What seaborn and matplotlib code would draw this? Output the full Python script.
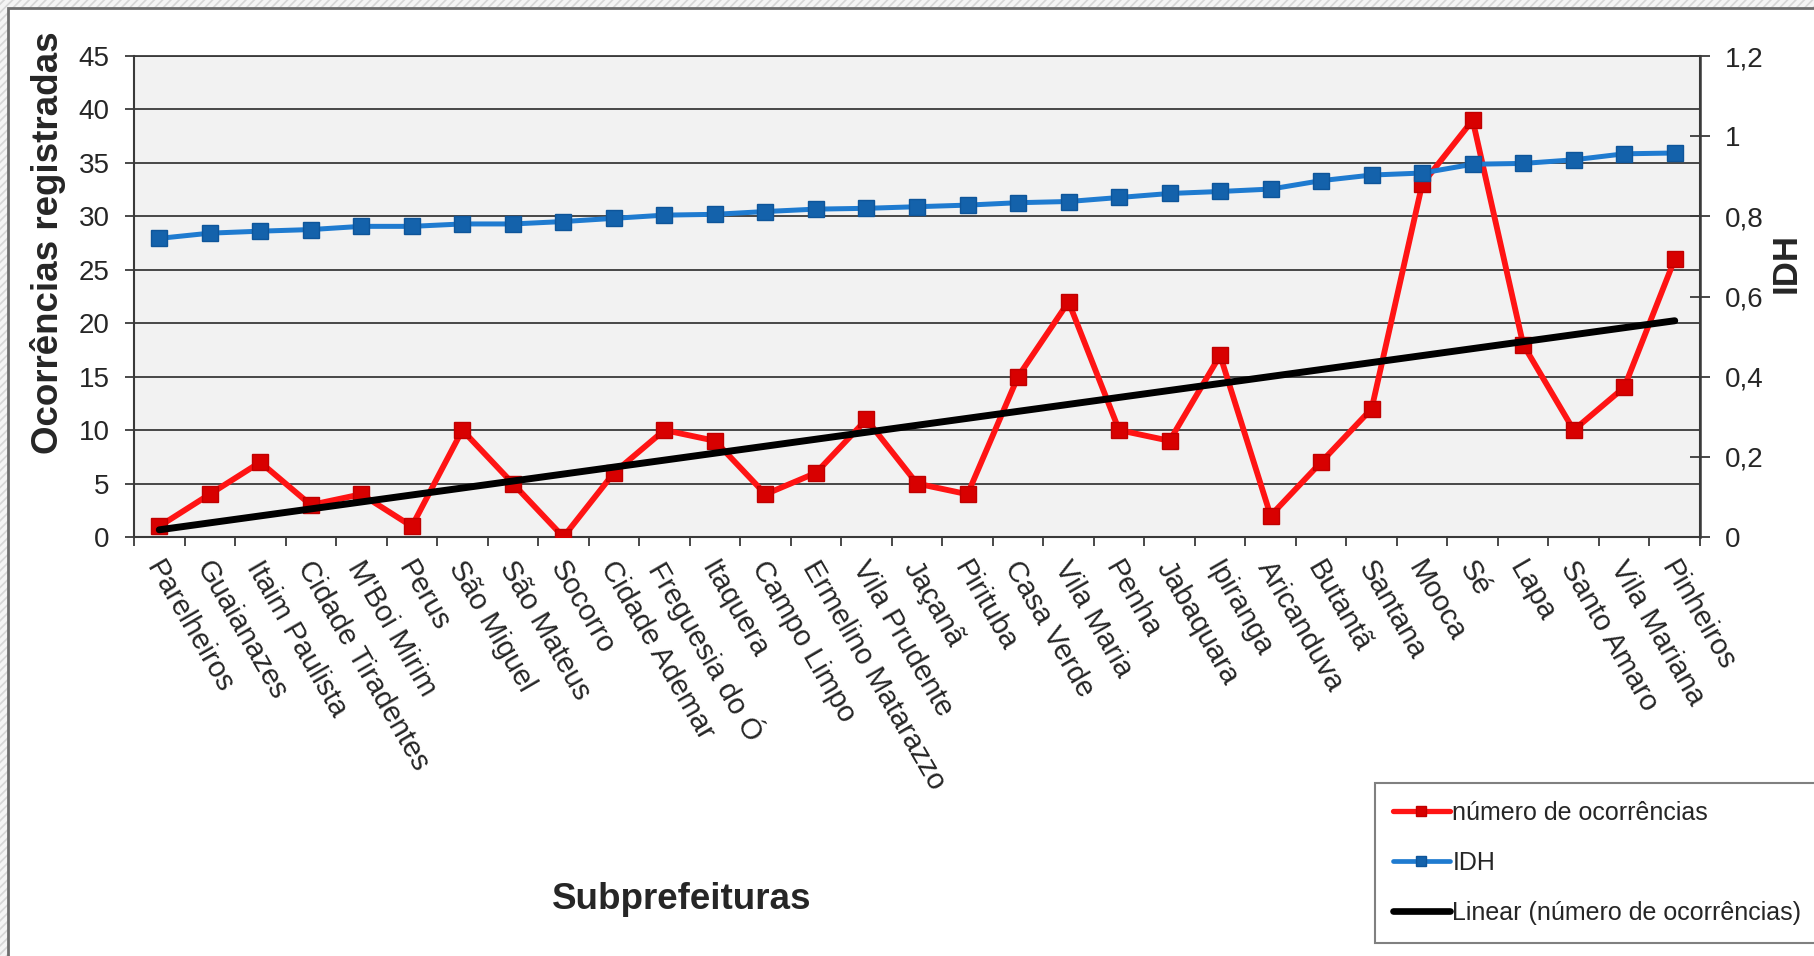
import numpy as np
import pandas as pd
import matplotlib
matplotlib.use("Agg")
import matplotlib.pyplot as plt
import matplotlib.transforms as mtransforms
from matplotlib.patches import Rectangle
from matplotlib.lines import Line2D
import seaborn as sns

subprefeituras = [
    "Parelheiros", "Guaianazes", "Itaim Paulista", "Cidade Tiradentes", "M'Boi Mirim",
    "Perus", "São Miguel", "São Mateus", "Socorro", "Cidade Ademar", "Freguesia do Ó",
    "Itaquera", "Campo Limpo", "Ermelino Matarazzo", "Vila Prudente", "Jaçanã",
    "Pirituba", "Casa Verde", "Vila Maria", "Penha", "Jabaquara", "Ipiranga",
    "Aricanduva", "Butantã", "Santana", "Mooca", "Sé", "Lapa", "Santo Amaro",
    "Vila Mariana", "Pinheiros",
]
ocorrencias = [1, 4, 7, 3, 4, 1, 10, 5, 0, 6, 10, 9, 4, 6, 11, 5, 4, 15, 22, 10,
               9, 17, 2, 7, 12, 33, 39, 18, 10, 14, 26]
idh = [0.745, 0.758, 0.763, 0.767, 0.775, 0.775, 0.781, 0.781, 0.787, 0.795,
       0.803, 0.805, 0.812, 0.818, 0.820, 0.824, 0.828, 0.834, 0.837, 0.847,
       0.857, 0.862, 0.868, 0.889, 0.903, 0.908, 0.930, 0.932, 0.941, 0.956, 0.958]

y_left_ticks = [0, 5, 10, 15, 20, 25, 30, 35, 40, 45]
y_right_ticks = [0, 0.2, 0.4, 0.6, 0.8, 1.0, 1.2]
y_right_labels = ["0", "0,2", "0,4", "0,6", "0,8", "1", "1,2"]

legend_labels = ["número de ocorrências", "IDH", "Linear (número de ocorrências)"]

sns.set_theme(style="white")
plt.rcParams["font.family"] = ["Liberation Sans", "DejaVu Sans"]

W, H = 1814, 956
fig = plt.figure(figsize=(W / 100, H / 100), dpi=100)
fig.patch.set_facecolor("#e2e2e2")

# striped backdrop and the white chart panel
plt.rcParams["hatch.linewidth"] = 3.0
fig.add_artist(Rectangle((0, 0), 1, 1, transform=fig.transFigure, facecolor="#d6d6d6",
                         edgecolor="#f4f4f4", hatch="////", lw=0, zorder=-3))
fig.add_artist(Rectangle((8 / W, -0.02), 1.05, 1 - 8 / H + 0.02, transform=fig.transFigure,
                         facecolor="white", edgecolor="#6e6e6e", lw=2.0, zorder=-2))

ax = fig.add_axes([134 / W, 1 - 537 / H, 1566 / W, 481 / H])
ax.set_facecolor("#f2f2f2")

pos = np.arange(len(subprefeituras))
df = pd.DataFrame({"pos": pos, "subprefeitura": subprefeituras,
                   "ocorrencias": ocorrencias, "idh": idh})

# least-squares trend of the occurrence counts
coef = np.polyfit(pos, ocorrencias, 1)
df["tendencia"] = np.polyval(coef, pos)

red, red_dark = "#ff1414", "#d80000"
blue, blue_dark = "#1f7bd0", "#1462ab"

sns.lineplot(data=df, x="pos", y="ocorrencias", ax=ax, color=red, lw=4.2,
             marker="s", markersize=11, markerfacecolor=red_dark,
             markeredgecolor="#c00000", markeredgewidth=1, zorder=3)
sns.lineplot(data=df, x="pos", y="tendencia", ax=ax, color="black", lw=5.0,
             zorder=4)

ax2 = ax.twinx()
sns.lineplot(data=df, x="pos", y="idh", ax=ax2, color=blue, lw=3.6,
             marker="s", markersize=11, markerfacecolor=blue_dark,
             markeredgecolor="#0e559a", markeredgewidth=1, zorder=3)

# axes limits and ticks
ax.set_xlim(-0.5, len(subprefeituras) - 0.5)
ax.set_ylim(0, 45)
ax.set_yticks(y_left_ticks)
ax2.set_ylim(0, 1.2)
ax2.set_yticks(y_right_ticks)
ax2.set_yticklabels(y_right_labels)

ax.set_xticks(pos)
ax.set_xticklabels(subprefeituras, rotation=-60, ha="left", va="top",
                   rotation_mode="anchor")
ax.set_xticks(np.arange(-0.5, len(subprefeituras), 1), minor=True)

ax.set_axisbelow(True)
ax.yaxis.grid(True, color="#3a3a3a", lw=1.3)
ax.xaxis.grid(False)

spine_c = "#3a3a3a"
for s in ["left", "bottom", "right", "top"]:
    ax.spines[s].set_visible(True)
    ax.spines[s].set_color(spine_c)
    ax.spines[s].set_linewidth(1.5)
ax.spines["top"].set_linewidth(1.3)
for s in ["left", "bottom", "top"]:
    ax2.spines[s].set_visible(False)
ax2.spines["right"].set_color(spine_c)
ax2.spines["right"].set_linewidth(1.8)

txt_c = "#262626"
ax.tick_params(axis="y", which="major", direction="out", length=6.5, width=1.3,
               color=spine_c, pad=11, labelsize=20, labelcolor=txt_c, left=True)
ax.tick_params(axis="x", which="major", length=0, pad=0, labelsize=21,
               labelcolor=txt_c)
ax.tick_params(axis="x", which="minor", direction="out", length=6.5, width=1.3,
               color=spine_c, bottom=True)
ax2.tick_params(axis="y", direction="inout", length=14, width=1.3, color=spine_c,
                pad=11, labelsize=20, labelcolor=txt_c, right=True)

offset = mtransforms.ScaledTranslation(5 / 100, -19 / 100, fig.dpi_scale_trans)
for lab in ax.get_xticklabels():
    lab.set_transform(lab.get_transform() + offset)

ax.set_xlabel("Subprefeituras", fontsize=26.5, fontweight="bold", color=txt_c)
ax.xaxis.set_label_coords(0.35, -0.717)
ax.set_ylabel("Ocorrências registradas", fontsize=26.5, fontweight="bold", color=txt_c)
ax.yaxis.set_label_coords(-0.0434, 0.612)
ax2.set_ylabel("IDH", fontsize=25, fontweight="bold", color=txt_c)
ax2.yaxis.set_label_coords(1.0447, 0.57)

handles = [
    Line2D([], [], color=red, lw=3.8, marker="s", markersize=7,
           markerfacecolor=red_dark, markeredgecolor="#c00000"),
    Line2D([], [], color=blue, lw=3.4, marker="s", markersize=7,
           markerfacecolor=blue_dark, markeredgecolor="#0e559a"),
    Line2D([], [], color="black", lw=4.8),
]
leg = fig.legend(handles, legend_labels, loc="upper left",
                 bbox_to_anchor=(1375 / W, 1 - 783 / H), frameon=True,
                 fancybox=False, edgecolor="#808080", facecolor="white",
                 fontsize=18, handlelength=2.3, labelspacing=1.05,
                 borderpad=0.7, handletextpad=0.1, borderaxespad=0,
                 framealpha=1)
leg.get_frame().set_linewidth(1.5)
for t in leg.get_texts():
    t.set_color(txt_c)

fig.savefig("out.png", dpi=100, facecolor=fig.get_facecolor())
